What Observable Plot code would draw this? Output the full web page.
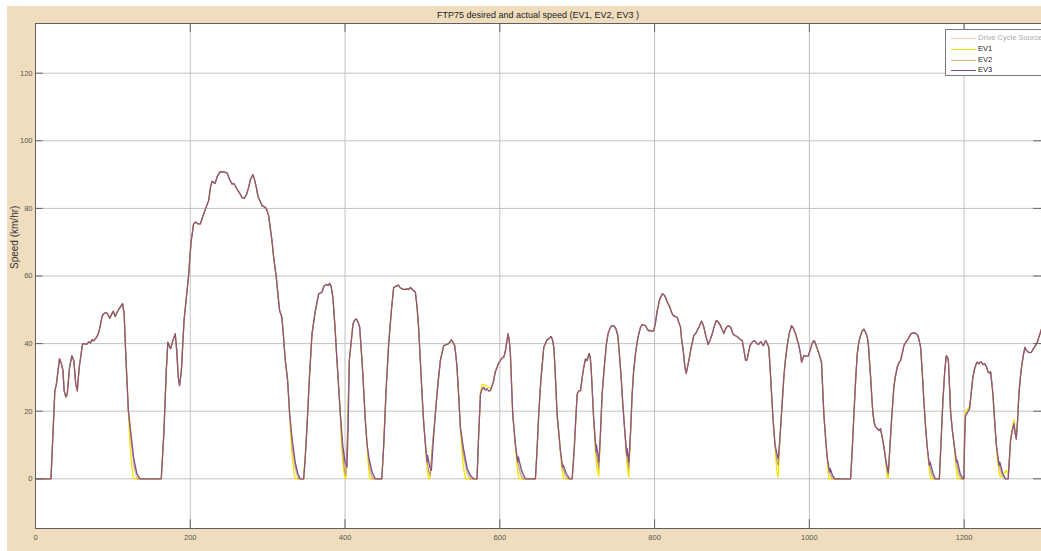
<!DOCTYPE html>
<html>
<head>
<meta charset="utf-8">
<script src="https://cdn.jsdelivr.net/npm/d3@7"></script>
<script src="https://cdn.jsdelivr.net/npm/@observablehq/plot@0.6"></script>
<style>
  html, body { margin: 0; padding: 0; background: #ffffff; }
  #wrap { position: relative; width: 1041px; height: 551px; overflow: hidden; font-family: "Liberation Sans", Arial, sans-serif; }
  #bg { position: absolute; left: 7px; top: 6px; right: 0; bottom: 0; background: #efddbd; }
  #title { position: absolute; left: 35px; width: 1006px; top: 10px; text-align: center; font-size: 9px; color: #222; line-height: 11px; }
  #chart { position: absolute; left: 0; top: 0; }
  #legend { position: absolute; left: 945px; top: 29px; width: 110px; height: 45px; background: #fff; border: 1px solid #7a7a7a; font-size: 7.5px; }
  .row { position: absolute; left: 0; height: 10px; line-height: 10px; white-space: nowrap; }
  .row .sw { position: absolute; left: 5px; top: 5px; width: 25px; height: 1px; }
  .row .lb { position: absolute; left: 32px; top: 0; }
</style>
</head>
<body>
<div id="wrap">
  <div id="bg"></div>
  <div id="chart"></div>
  <div id="title">FTP75 desired and actual speed (EV1, EV2, EV3 )</div>
  <div id="legend"></div>
</div>
<script>
// ---------- data (time s, speed km/h) ----------
const seriesNames = ["Drive Cycle Source", "EV1", "EV2", "EV3"];
const xTicks = [0, 200, 400, 600, 800, 1000, 1200];
const yTicks = [0, 20, 40, 60, 80, 100, 120];

const driveCycle = [
  [0,0],[20,0],[25,26],[27,28],[31,35.5],[33.5,34],[35.5,32],[37,26],[39.3,24.2],[41,25],[44,33],[47,36.4],[49.5,35],[52,28],[54,26],[56.5,33],[60.8,39.9],[63,40],[66,39.8],[69,40.5],[71,40.2],[73,41.2],[75,40.8],[79.4,42],[82,43.5],[86,48],[88,48.8],[91,49.2],[93,48.8],[96,47.5],[98,48.5],[100.5,49.6],[103,48],[106,49.5],[110,51],[112.5,51.8],[114.5,49],[117,35],[120,20.2],
  [124,10],[127.5,3],[131,0],
  [162.5,0],[166,14],[169,32],[171,40.4],[174.6,38.5],[177,40.5],[180.6,42.9],[182.5,38],[184.5,30],[186.2,27.6],[188.5,32],[192,47],[197.8,60.1],[201,70],[204.3,75.4],[207,76],[210,75.4],[213,75.4],[216,77.5],[220,80],[223.7,82.3],[226,86],[228,88],[232,87.4],[235,89.5],[238.8,90.9],[243,90.8],[247.5,90.5],[251,88.5],[253.9,87.2],[256,87.4],[258,86.7],[261,85.5],[264.6,84.2],[267,83.2],[269.8,83],[272.5,84],[275.4,86.2],[278,88.7],[281,90],[283,88.5],[285.4,86.2],[287.5,83.5],[289.6,82.5],[293,80.8],[297,80.3],[299,79.5],[301.3,77.8],[303.5,74],[305.6,70.4],[308,65],[311.2,59.6],[313.5,54],[315.5,49.7],[318.4,47.8],[320.5,42],[322.8,35],[325.8,29.1],[328.4,19.2],
  [332,9],[335.5,3],[339,0],
  [346.5,0],[348.5,6],[350.8,15.3],[354,30],[357.3,42.9],[361.6,49.7],[365.9,54.7],[370,55.2],[373,57.1],[376,57.5],[378.5,57.2],[380,57.8],[382,57],[384.3,53.7],[387,45],[389.6,35],[393.9,19.2],
  [397,8],[399.5,2],[401,1],
  [403,12],[405.5,35],[410.3,45.8],[412.5,47],[414.6,47.3],[416.5,46.5],[418.9,44.9],[421,38],[423.2,30.2],[426,18],[428.4,10.3],
  [431,4],[433,1.2],[435,0],
  [447.5,0],[450,10],[453,26],[456.4,40],[460,50],[462.8,56.6],[467,57.1],[469,57.3],[471,56.6],[473.7,56.2],[477,56],[480,56.2],[482,56],[484.4,56.6],[487,56],[490.9,55.2],[493,51],[495,44.9],[497.5,34],[499.5,25.1],[501.5,17],[503.8,10.3],
  [506,5],[508.5,2],[510,1],
  [513,10],[516.8,19.5],[520,28],[523.2,35],[527.5,39.4],[530,39.6],[533,39.9],[535,40.3],[537.4,41.1],[539.5,40.4],[541.7,39.4],[543,37],[544.7,33],[547,24],[549,15.3],
  [553,7],[557,2],[561,0],
  [570.6,0],[572.5,12],[575,25.1],[577,26.5],[579.3,27.1],[581,26.3],[583.6,26.6],[585.5,26],[587.9,26.1],[590,27.5],[592.1,29.1],[594,31.5],[596.5,33],[598,34],[600.8,35],[603,35.8],[605.1,36],[607,37.5],[609,40.5],[610.7,42.9],[612.2,41],[613.7,37],[615,29],[616.7,19.2],[620,10.3],
  [623,5],[626,1.5],[629,0],
  [646,0],[648,8],[650.3,19.2],[653,29],[656.8,38.9],[661,41.1],[664,41.6],[666.3,42.1],[668,41.2],[669.8,38.9],[671.5,32],[674,19.2],[678.4,8],
  [681,3.5],[684,1],[687,0],
  [693.5,0],[696,8],[698,17],[700,25.1],[702,26],[704.3,26.1],[706.5,30],[708.5,33],[710.7,35.5],[712.8,35],[715.4,37.1],[716.8,36],[718,33],[719.5,26],[721.4,17.3],
  [724.5,8],[727.9,3],
  [730,13],[732.2,25],[735,33],[737.8,40],[740,43],[743,44.8],[745,45.3],[747.3,45.3],[750,44.4],[752.5,42.4],[754.5,37],[756.8,30],[759,22],[761.1,15.3],
  [764,7],[766.7,3],
  [769,14],[771,25],[773,32],[775.3,37],[777.5,40.5],[779.6,42.9],[781.8,44.8],[784,45.6],[786,45.5],[788.3,45.3],[790.5,44.3],[792.5,43.8],[795,43.9],[797,43.6],[799,43.9],[801,46],[803.4,49.7],[806.5,53],[809.8,54.7],[812,54.5],[814,53.7],[817,52],[819.7,50.8],[822,49.2],[824,48.3],[827,48],[829.2,47.8],[831,46.5],[833.5,44.9],[835,41],[837,38],[839,33.5],[840.8,31.2],[842.5,33],[844.3,35],[847,38.5],[850.7,42.4],[852.9,42.9],[855,43.8],[857.5,45],[860.6,46.6],[862,46],[863.6,44.9],[866,42.5],[869.3,39.7],[872,41.2],[874.5,42.9],[877,45],[879.7,46.8],[882,46.5],[885.3,45.3],[887.5,44],[889.6,43],[891.5,44.3],[893.9,45.1],[896,45.2],[898.2,44.9],[901.2,42.9],[903.5,42.4],[906.8,42.1],[909,41.6],[911,41.2],[913.3,40.9],[915.5,38],[917.6,35],[919.5,35.2],[921.5,37.5],[923.3,39.4],[926,40.4],[929,40.9],[931.5,40.2],[934.1,39.7],[936,40.3],[937.5,40.5],[939,40],[940.5,39.4],[942,40.2],[943.6,40.9],[945.5,40],[947.6,38.9],[949.5,32],[951.2,25.1],[953,18],[955.5,10.3],
  [958,5.5],[959.8,4],
  [962,12],[964,19.2],[967,30],[969,35],[971.4,39.4],[974,43],[977,45.3],[979.5,44.5],[982.2,42.9],[984.5,41],[986.5,39.4],[988.5,37],[990,34.5],[991.5,35.5],[993,36.4],[996,36.3],[998.7,36.4],[1001,38],[1003.5,40],[1005.8,40.9],[1007,40.6],[1008.8,39.4],[1011,38],[1013.5,36.2],[1015.7,34.5],[1017,28],[1018.7,19.2],[1021,12],[1023,6.4],
  [1026,2],[1028,0.5],[1030,0],
  [1053.3,0],[1055.5,9],[1057.6,19.2],[1060,30],[1061.9,37],[1064,40.5],[1066.2,42.4],[1068.5,43.8],[1070.5,44.3],[1072.7,43.3],[1074.8,42],[1076.2,39.9],[1078,34],[1079.2,30],[1081,23],[1082.2,19.2],[1084,16.5],[1085.6,15.3],[1088,14.8],[1090,14.3],[1092.1,14.8],[1093.5,13],[1095,11.3],[1097,8.5],[1098.5,5.9],
  [1100.5,2.5],[1102,1.2],
  [1104,9],[1106.2,17.3],[1109.2,27.1],[1111,30],[1113.5,33],[1115.5,34.2],[1117.8,35],[1120,37],[1122.2,39.4],[1124.5,40.4],[1126.5,40.9],[1129,42],[1131,42.8],[1133,43.1],[1136,43.2],[1139.4,42.7],[1141.5,41.5],[1143.8,38.9],[1146,31],[1148,23.1],[1150,16],[1152.3,9.4],
  [1155,4],[1157.5,1.5],[1160,0],
  [1168,0],[1170,10],[1172.6,23.1],[1175,32],[1177,36.4],[1178.5,36],[1179.7,35],[1181,28],[1182.7,19.2],[1185,14],[1187,10.3],
  [1190,5],[1192.5,1.5],[1195,0],
  [1199.7,0],[1200.7,12],[1201.8,18.7],[1204,19.5],[1207,20.7],[1209,25],[1211.3,30],[1213.5,32.5],[1215.7,34],[1217,34.5],[1219,34],[1220.5,34.5],[1222.5,34.5],[1224.5,33.8],[1226.8,34],[1229,33],[1231.2,31.5],[1232.5,31.3],[1234.2,31.7],[1235.5,29],[1237.2,25.1],[1239.5,17],[1241.5,10.3],
  [1245,4],[1248,1.2],[1251,0],
  [1257,0],[1260,11.3],[1262,14],[1264.4,16.3],[1266,13.5],[1267.4,11.8],[1269,17],[1270.8,25.1],[1272.5,29.5],[1274.2,33],[1276.5,36.5],[1278.5,38.9],[1280.5,38],[1282.8,37.5],[1285,37.3],[1287.1,37.5],[1289.5,38.5],[1292.3,39.4],[1294.5,40.5],[1296.6,41.9],[1300,44.3]
];

// EV1 (yellow): stops earlier during decelerations
const ev1Segments = [
  [[120.5,17],[122.5,9],[124.5,3.5],[126,1],[127.5,0],[131,0]],
  [[329.5,14],[332,6],[334,2],[335.7,0],[339,0]],
  [[395,12],[397.5,4],[399.5,0.5],[401,0]],
  [[429.5,6],[431,1.5],[432,0],[435,0]],
  [[505,6],[507,1.5],[508.5,0],[510,0.5]],
  [[550.5,10],[553,3.5],[555.5,0],[561,0]],
  [[577,27.8],[579.3,28],[583.6,27.3],[587.9,26.8]],
  [[621.5,6],[623.5,1.5],[625,0],[629,0]],
  [[680,3.5],[682,0.5],[683,0],[687,0]],
  [[723,10],[725.5,3],[727.9,0.8]],
  [[763,9],[765,3],[766.7,0.5]],
  [[957,5],[958.5,1.5],[959.8,0.5]],
  [[1024,3],[1025.5,0],[1030,0]],
  [[1099.5,3],[1101,0.3],[1102,0.2]],
  [[1154,5],[1156,1],[1157,0],[1160,0]],
  [[1188.5,6],[1190.5,1.5],[1191.5,0],[1195,0]],
  [[1200.7,14],[1201.8,20],[1204,20.5],[1207,21.5]],
  [[1243,6],[1245.5,1.5],[1247,0.5],[1249,1],[1251,1.5],[1253,2],[1255,2.5],[1257,1],[1260,12],[1264.4,17.5]]
];

// EV2 (khaki): close to the source, slight lag
const ev2Segments = [
  [[124,11],[128,3.5],[133,0]],
  [[332,10],[336,3.5],[340.5,0]],
  [[431,5],[434,1.5],[437,0]],
  [[553,7.5],[558,2],[563,0]],
  [[623,5.5],[627,1.5],[631,0]],
  [[681,4],[685,1],[688.5,0]],
  [[1026,2.5],[1029,0.5],[1031.5,0]],
  [[1155,4.5],[1158.5,1.5],[1161.5,0]],
  [[1190,5.5],[1193.5,1.5],[1196.5,0]],
  [[1245,4.5],[1249,1.5],[1252.5,0]]
];

// EV3 (purple): lags behind during decelerations
const ev3Segments = [
  [[123,14],[127,6],[131,1.5],[135,0]],
  [[331.5,12],[335.5,5],[339,1.5],[342,0]],
  [[397,10],[400,5],[402.5,3.4],[404,15]],
  [[431,6],[435,2],[439,0],[447.5,0]],
  [[506.5,7],[509.5,3.5],[511.6,2.5],[514,11]],
  [[553,9],[558,3],[562,1],[566,0],[570.6,0]],
  [[624,6.5],[628,2.5],[633,0],[646,0]],
  [[682,4],[686,1.5],[690.4,0],[693.5,0]],
  [[725,10],[728,4.9],[730,13]],
  [[764.5,9],[766.7,4.9],[769,14]],
  [[958,7.5],[959.8,5.9],[962,12]],
  [[1027,3],[1030,1],[1033,0],[1053.3,0]],
  [[1100.5,3.5],[1102,1.8],[1104,9]],
  [[1156,5],[1160,1.5],[1163,0],[1168,0]],
  [[1191,5.5],[1195,1.5],[1198.5,0],[1199.7,0]],
  [[1246,5],[1250,1.5],[1253.6,0],[1257,0]]
];

const colors = {
  "Drive Cycle Source": "#c06848",
  "EV1": "#f2e600",
  "EV2": "#c9b87a",
  "EV3": "#7a4e98"
};
const sourceOpacity = 0.35;

// ---------- build tables ----------
function buildSeries(base, segments) {
  const inSeg = t => segments.some(s => t >= s[0][0] && t <= s[s.length - 1][0]);
  return base.filter(p => !inSeg(p[0])).concat(segments.flat()).sort((a, b) => a[0] - b[0])
    .map(([t, v]) => ({t, v}));
}
const srcRows = driveCycle.map(([t, v]) => ({t, v}));
const ev1Rows = buildSeries(driveCycle, ev1Segments);
const ev2Rows = buildSeries(driveCycle, ev2Segments);
const ev3Rows = buildSeries(driveCycle, ev3Segments);

const xDomain = [0, 1300];
const yDomain = [-14.7, 134.7];
const tickLenX = 10;   // in x units (~8px)
const tickLenY = 2.6;  // in y units (~9px)

const chart = Plot.plot({
  width: 1041,
  height: 551,
  marginLeft: 35,
  marginRight: 0,
  marginTop: 23,
  marginBottom: 23,
  style: {background: "transparent", fontFamily: "'Liberation Sans', Arial, sans-serif", fontSize: "7.5px", color: "#555"},
  x: {domain: xDomain},
  y: {domain: yDomain},
  marks: [
    Plot.frame({fill: "white", stroke: null}),
    Plot.gridX(xTicks, {stroke: "#c2c2c2", strokeOpacity: 1}),
    Plot.gridY(yTicks, {stroke: "#c2c2c2", strokeOpacity: 1}),
    Plot.line(ev1Rows, {x: "t", y: "v", stroke: colors["EV1"], strokeWidth: 1.3}),
    Plot.line(ev2Rows, {x: "t", y: "v", stroke: colors["EV2"], strokeWidth: 1.1}),
    Plot.line(ev3Rows, {x: "t", y: "v", stroke: colors["EV3"], strokeWidth: 1.3}),
    Plot.line(srcRows, {x: "t", y: "v", stroke: colors["Drive Cycle Source"], strokeWidth: 1.2, strokeOpacity: sourceOpacity}),
    Plot.ruleY(yTicks, {x1: xDomain[0], x2: xDomain[0] + tickLenX, stroke: "#666"}),
    Plot.ruleY(yTicks, {x1: xDomain[1] - tickLenX, x2: xDomain[1], stroke: "#666"}),
    Plot.ruleX(xTicks, {y1: yDomain[0], y2: yDomain[0] + tickLenY, stroke: "#666"}),
    Plot.ruleX(xTicks, {y1: yDomain[1] - tickLenY, y2: yDomain[1], stroke: "#666"}),
    Plot.frame({stroke: "#5f5f5f"}),
    Plot.axisX(xTicks, {tickSize: 0, tickPadding: 6, label: null, fill: "#555", tickFormat: d => String(d)}),
    Plot.axisY(yTicks, {tickSize: 0, tickPadding: 3, label: null, fill: "#555", tickFormat: d => String(d)}),
    Plot.text(["Speed (km/hr)"], {frameAnchor: "left", text: d => d, rotate: -90, dx: -21, dy: -7, fontSize: 10, fill: "#333"})
  ]
});
document.getElementById("chart").appendChild(chart);

// ---------- legend ----------
const legend = document.getElementById("legend");
const rowTops = [3, 14, 25, 35];
seriesNames.forEach((name, i) => {
  const row = document.createElement("div");
  row.className = "row";
  row.style.top = rowTops[i] + "px";
  const sw = document.createElement("div");
  sw.className = "sw";
  sw.style.background = colors[name];
  if (name === "Drive Cycle Source") sw.style.opacity = sourceOpacity;
  const lb = document.createElement("div");
  lb.className = "lb";
  lb.textContent = name;
  lb.style.color = name === "Drive Cycle Source" ? "#aaaaaa" : "#222";
  row.appendChild(sw);
  row.appendChild(lb);
  legend.appendChild(row);
});
</script>
</body>
</html>
